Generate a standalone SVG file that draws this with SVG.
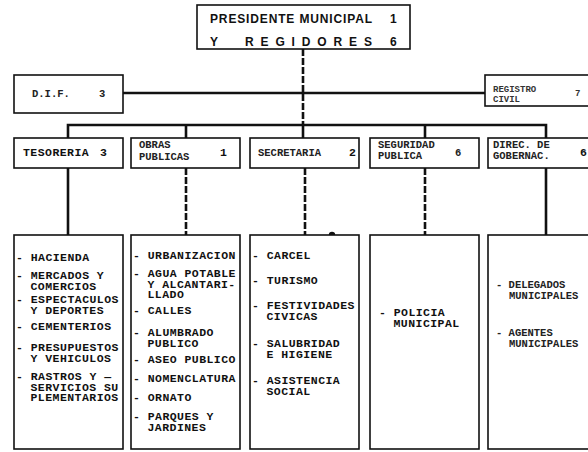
<svg xmlns="http://www.w3.org/2000/svg" width="588" height="452" viewBox="0 0 588 452">
<style>
.box{fill:#fff;stroke:#111;stroke-width:1.6}
.t{font-family:"Liberation Mono","DejaVu Sans Mono",monospace;font-weight:bold;font-size:11.5px;letter-spacing:0.45px;fill:#111}
.s{font-family:"Liberation Mono","DejaVu Sans Mono",monospace;font-weight:bold;font-size:10.5px;fill:#222}
.xs{font-family:"Liberation Mono","DejaVu Sans Mono",monospace;font-weight:bold;font-size:9px;fill:#333}
.hd{font-family:"Liberation Sans",Arial,sans-serif;font-weight:bold;font-size:12px;fill:#111}
.c{fill:none;stroke:#111;stroke-width:2.6}
.cd{fill:none;stroke:#111;stroke-width:2.6;stroke-dasharray:7 2}
</style>
<rect width="588" height="452" fill="#fff"/>
<g id="connectors">
<line class="cd" x1="303" y1="49" x2="303" y2="125"/>
<line class="c" x1="123" y1="93" x2="485" y2="93"/>
<path class="c" d="M68,138 V125 H546 V138" stroke-width="2.2"/>
<line class="c" x1="186" y1="125" x2="186" y2="138" stroke-width="2"/>
<line class="c" x1="303" y1="125" x2="303" y2="138" stroke-width="2"/>
<line class="c" x1="425" y1="125" x2="425" y2="138" stroke-width="2"/>
<line class="c" x1="68" y1="168" x2="68" y2="235" stroke-width="3"/>
<line class="cd" x1="186" y1="168" x2="186" y2="235" stroke-width="3"/>
<line class="cd" x1="305" y1="168" x2="305" y2="235" stroke-width="3"/>
<line class="cd" x1="425" y1="168" x2="425" y2="235" stroke-width="3"/>
<line class="c" x1="546" y1="168" x2="546" y2="235" stroke-width="3"/>
<circle cx="332" cy="235" r="3.2" fill="#111"/>
</g>
<g id="presidente">
<rect class="box" x="197" y="5" width="213" height="44"/>
<text class="hd" x="210" y="23" textLength="162" lengthAdjust="spacing">PRESIDENTE MUNICIPAL</text>
<text class="hd" x="390" y="23">1</text>
<text class="hd" x="210" y="46">Y</text>
<text class="hd" x="245" y="46" textLength="127" lengthAdjust="spacing">REGIDORES</text>
<text class="hd" x="390" y="46">6</text>
</g>
<g id="dif">
<rect class="box" x="14" y="75" width="109" height="38"/>
<text class="s" x="32" y="97">D.I.F.</text>
<text class="s" x="99" y="97">3</text>
</g>
<g id="registro">
<rect class="box" x="485" y="75" width="110" height="31"/>
<text class="xs" x="493" y="92">REGISTRO</text>
<text class="xs" x="493" y="102">CIVIL</text>
<text class="xs" x="575" y="96">7</text>
</g>
<g id="tesoreria">
<rect class="box" x="14" y="138" width="109" height="30"/>
<text class="t" x="23" y="156">TESORERIA</text>
<text class="t" x="100" y="156">3</text>
</g>
<g id="obras">
<rect class="box" x="131" y="138" width="109" height="30"/>
<text class="s" x="139" y="148">OBRAS</text>
<text class="s" x="139" y="160">PUBLICAS</text>
<text class="t" x="220" y="156">1</text>
</g>
<g id="secretaria">
<rect class="box" x="250" y="138" width="109" height="30"/>
<text class="s" x="258" y="156">SECRETARIA</text>
<text class="t" x="349" y="156">2</text>
</g>
<g id="seguridad">
<rect class="box" x="370" y="138" width="109" height="30"/>
<text class="s" x="378" y="148">SEGURIDAD</text>
<text class="s" x="378" y="159">PUBLICA</text>
<text class="s" x="455" y="156">6</text>
</g>
<g id="gobernacion">
<rect class="box" x="488" y="138" width="110" height="30"/>
<text class="s" x="493" y="148">DIREC. DE</text>
<text class="s" x="493" y="159">GOBERNAC.</text>
<text class="t" x="580" y="156">6</text>
</g>
<g id="tesoreria-funciones">
<rect class="box" x="14" y="235" width="109" height="214"/>
<text class="t" x="16" y="261">- HACIENDA</text>
<text class="t" x="16" y="279">- MERCADOS Y</text>
<text class="t" x="30.5" y="289.5">COMERCIOS</text>
<text class="t" x="16" y="303">- ESPECTACULOS</text>
<text class="t" x="30.5" y="313.5">Y DEPORTES</text>
<text class="t" x="16" y="330">- CEMENTERIOS</text>
<text class="t" x="16" y="351">- PRESUPUESTOS</text>
<text class="t" x="30.5" y="361.5">Y VEHICULOS</text>
<text class="t" x="16" y="380">- RASTROS Y —</text>
<text class="t" x="30.5" y="390.5">SERVICIOS SU</text>
<text class="t" x="30.5" y="401">PLEMENTARIOS</text>
</g>
<g id="obras-funciones">
<rect class="box" x="131" y="235" width="109" height="214"/>
<text class="t" x="133" y="259">- URBANIZACION</text>
<text class="t" x="133" y="277">- AGUA POTABLE</text>
<text class="t" x="147.5" y="287.5">Y ALCANTARI-</text>
<text class="t" x="147.5" y="298">LLADO</text>
<text class="t" x="133" y="314">- CALLES</text>
<text class="t" x="133" y="336">- ALUMBRADO</text>
<text class="t" x="147.5" y="346.5">PUBLICO</text>
<text class="t" x="133" y="363">- ASEO PUBLICO</text>
<text class="t" x="133" y="382">- NOMENCLATURA</text>
<text class="t" x="133" y="401">- ORNATO</text>
<text class="t" x="133" y="420">- PARQUES Y</text>
<text class="t" x="147.5" y="430.5">JARDINES</text>
</g>
<g id="secretaria-funciones">
<rect class="box" x="250" y="235" width="109" height="214"/>
<text class="t" x="252" y="259">- CARCEL</text>
<text class="t" x="252" y="284">- TURISMO</text>
<text class="t" x="252" y="309">- FESTIVIDADES</text>
<text class="t" x="266.5" y="320">CIVICAS</text>
<text class="t" x="252" y="347">- SALUBRIDAD</text>
<text class="t" x="266.5" y="358">E HIGIENE</text>
<text class="t" x="252" y="384">- ASISTENCIA</text>
<text class="t" x="266.5" y="395">SOCIAL</text>
</g>
<g id="seguridad-funciones">
<rect class="box" x="370" y="235" width="109" height="214"/>
<text class="t" x="379" y="316">- POLICIA</text>
<text class="t" x="393.5" y="327">MUNICIPAL</text>
</g>
<g id="gobernacion-funciones">
<rect class="box" x="488" y="235" width="110" height="214"/>
<text class="s" x="496" y="288">- DELEGADOS</text>
<text class="s" x="509" y="298.5">MUNICIPALES</text>
<text class="s" x="496" y="336">- AGENTES</text>
<text class="s" x="509" y="346.5">MUNICIPALES</text>
</g>
</svg>
